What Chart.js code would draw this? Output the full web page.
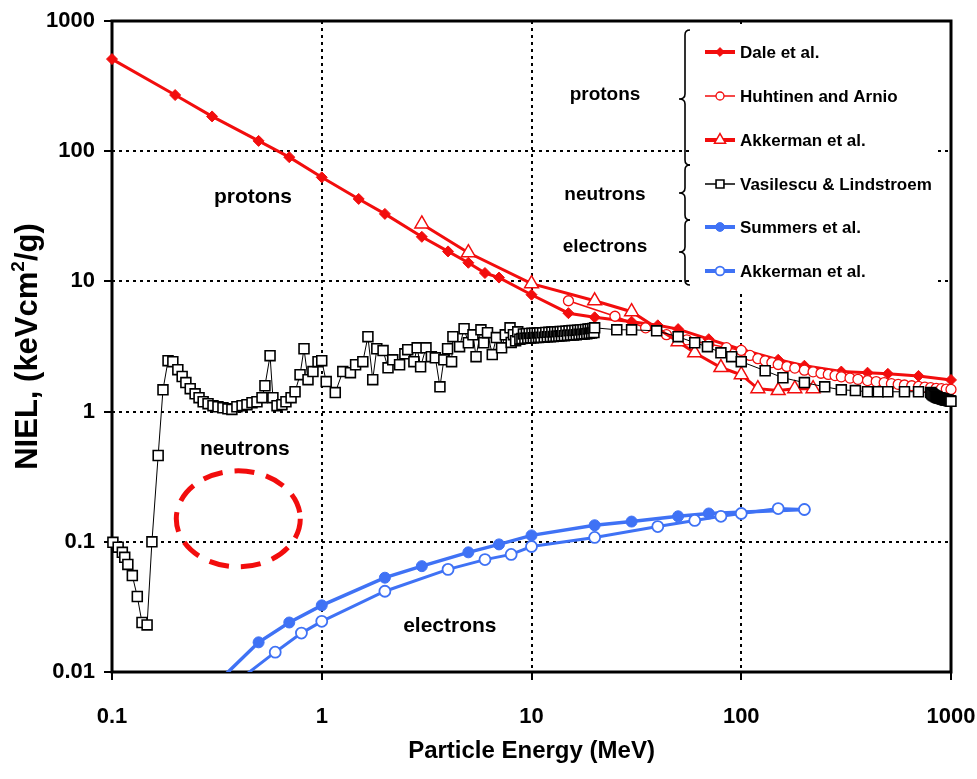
<!DOCTYPE html>
<html>
<head>
<meta charset="utf-8">
<title>NIEL vs particle energy</title>
<script src="https://cdn.jsdelivr.net/npm/chart.js@4.4.1/dist/chart.umd.min.js"></script>
<style>
  html, body { margin: 0; padding: 0; background: #fff; }
  canvas { display: block; }
</style>
</head>
<body>
<canvas id="myChart" width="977" height="779"></canvas>
<script>
// tick labels
const xTicks = [0.1, 1, 10, 100, 1000];
const yTicks = [0.01, 0.1, 1, 10, 100, 1000];

// protons - Dale et al.
const daleE    = [0.1, 0.2, 0.3, 0.5, 0.7, 1, 1.5, 2, 3, 4, 5, 6, 7, 10, 15, 20, 30, 40, 50, 70, 100, 150, 200, 300, 400, 500, 700, 1000];
const daleNiel = [510, 270, 185, 120, 90, 63, 43, 33, 22, 17, 13.9, 11.6, 10.7, 7.9, 5.7, 5.3, 4.9, 4.6, 4.3, 3.6, 3.0, 2.5, 2.25, 2.03, 1.99, 1.95, 1.88, 1.75];

// protons - Huhtinen and Arnio
const huhE    = [15, 25, 35, 44, 55, 70, 85, 100, 110, 120, 130, 140, 150, 165, 180, 200, 220, 240, 260, 280, 300, 330, 360, 400, 440, 480, 520, 560, 600, 650, 700, 750, 800, 850, 900, 950, 1000];
const huhNiel = [7.1, 5.4, 4.4, 3.9, 3.56, 3.3, 3.1, 2.95, 2.7, 2.55, 2.45, 2.38, 2.3, 2.22, 2.16, 2.08, 2.02, 1.97, 1.93, 1.89, 1.85, 1.81, 1.77, 1.73, 1.70, 1.67, 1.64, 1.62, 1.60, 1.58, 1.56, 1.54, 1.53, 1.51, 1.50, 1.49, 1.48];

// protons - Akkerman et al.
const akpE    = [3, 5, 10, 20, 30, 50, 60, 80, 100, 120, 150, 180, 220];
const akpNiel = [27.6, 16.6, 9.6, 7.1, 5.85, 3.44, 2.83, 2.18, 1.92, 1.50, 1.45, 1.50, 1.50];

// neutrons - Vasilescu & Lindstroem
const neuE = [
  0.101, 0.107, 0.112, 0.115, 0.119, 0.125, 0.132, 0.139, 0.147, 0.155, 0.166, 0.175, 0.185, 0.195, 0.206, 0.216, 0.225, 0.236, 0.249, 0.26,
  0.272, 0.287, 0.303, 0.32, 0.338, 0.357, 0.373, 0.394, 0.417, 0.44, 0.465, 0.491, 0.519, 0.536, 0.567, 0.585, 0.612, 0.646, 0.675, 0.714,
  0.746, 0.788, 0.823, 0.86, 0.908, 0.96, 1.0, 1.05, 1.16, 1.26, 1.37, 1.45, 1.57, 1.66, 1.75, 1.83, 1.96, 2.07, 2.18, 2.35,
  2.49, 2.57, 2.75, 2.85, 2.96, 3.14, 3.33, 3.48, 3.66, 3.82, 3.98, 4.16, 4.22, 4.54, 4.77, 5.0, 5.26, 5.44, 5.74, 5.92,
  6.17, 6.5, 6.8, 7.2, 7.5, 7.9, 8.0, 8.2, 8.4, 8.6, 8.8,
  9.0, 9.15, 9.3, 9.45, 9.6, 9.75, 9.9, 10.05, 10.2, 10.35, 10.5, 10.65, 10.8, 10.95, 11.1, 11.3, 11.5, 11.7, 11.9, 12.1,
  12.3, 12.5, 12.7, 12.9, 13.1, 13.3, 13.5, 13.7, 13.9, 14.1, 14.35, 14.6, 14.85, 15.1, 15.35, 15.6, 15.85, 16.1, 16.35, 16.6,
  16.85, 17.1, 17.35, 17.6, 17.85, 18.1, 18.35, 18.6, 18.85, 19.1, 19.35, 19.6, 19.85, 20.0,
  25.5, 30, 39.5, 50, 60, 69, 80, 90, 100, 130, 158, 200, 250, 300, 350, 400, 450, 500, 600, 700,
  800, 810, 820, 830, 840, 850, 860, 870, 880, 890, 900, 910, 920, 930, 940, 950, 960, 970, 980, 990, 1000];
const neuNiel = [
  0.099, 0.091, 0.083, 0.076, 0.067, 0.055, 0.038, 0.024, 0.023, 0.10, 0.46, 1.47, 2.46, 2.42, 2.10, 1.86, 1.67, 1.50, 1.37, 1.28,
  1.19, 1.15, 1.11, 1.09, 1.07, 1.05, 1.04, 1.09, 1.11, 1.13, 1.17, 1.19, 1.28, 1.58, 2.69, 1.28, 1.11, 1.13, 1.19, 1.28,
  1.42, 1.92, 3.04, 1.76, 2.03, 2.42, 2.46, 1.70, 1.40, 2.03, 1.99, 2.29, 2.42, 3.76, 1.76, 3.04, 2.94, 2.17, 2.50, 2.29,
  2.78, 2.99, 2.42, 3.09, 2.21, 3.09, 2.64, 2.59, 1.55, 2.50, 3.04, 2.42, 3.76, 3.15, 4.33, 3.38, 3.89, 2.64, 4.25, 3.38,
  4.04, 2.74, 3.70, 3.09, 3.89, 4.4, 3.4, 3.9, 3.5, 4.1, 3.6,
  3.64, 3.95, 3.66, 3.97, 3.67, 3.98, 3.68, 3.99, 3.69, 4.00, 3.70, 4.01, 3.71, 4.02, 3.72, 4.03, 3.73, 4.05, 3.75, 4.06,
  3.76, 4.08, 3.78, 4.09, 3.79, 4.10, 3.80, 4.12, 3.82, 4.13, 3.83, 4.15, 3.85, 4.17, 3.87, 4.19, 3.88, 4.20, 3.90, 4.22,
  3.92, 4.24, 3.93, 4.26, 3.95, 4.28, 3.97, 4.30, 3.99, 4.32, 4.01, 4.35, 4.05, 4.4,
  4.25, 4.25, 4.17, 3.76, 3.38, 3.15, 2.83, 2.64, 2.42, 2.06, 1.82, 1.67, 1.55, 1.47, 1.45, 1.42, 1.42, 1.42, 1.42, 1.42,
  1.40, 1.37, 1.35, 1.33, 1.32, 1.30, 1.29, 1.28, 1.27, 1.27, 1.26, 1.25, 1.25, 1.24, 1.23, 1.23, 1.22, 1.22, 1.21, 1.21, 1.20];

// electrons - Summers et al.
const sumE    = [0.3, 0.5, 0.7, 1, 2, 3, 5, 7, 10, 20, 30, 50, 70, 200];
const sumNiel = [0.0076, 0.0169, 0.024, 0.0325, 0.053, 0.065, 0.083, 0.0955, 0.112, 0.134, 0.143, 0.157, 0.165, 0.177];

// electrons - Akkerman et al.
const akeE    = [0.4, 0.6, 0.8, 1, 2, 4, 6, 8, 10, 20, 40, 60, 80, 100, 150, 200];
const akeNiel = [0.0086, 0.0142, 0.0199, 0.0245, 0.0417, 0.0614, 0.073, 0.080, 0.092, 0.108, 0.131, 0.146, 0.157, 0.165, 0.18, 0.177];

// labels inside the plot, placed at data coordinates
const regionLabels = ['protons', 'neutrons', 'electrons'];
const regionLabelE = [0.47, 0.43, 4.08];
const regionLabelNiel = [44, 0.51, 0.0225];
const markE = 0.4, markNiel = 0.15;   // dashed ellipse centre

const groupNames = ['protons', 'neutrons', 'electrons'];

const FONT = "'Liberation Sans', Arial, Helvetica, sans-serif";
const RED = '#f20d0d';
const BLUE = '#3f72f5';

const pts = (xs, ys) => xs.map((x, i) => ({ x: x, y: ys[i] }));

function marker(ctx, style, r, x, y, fill, stroke, bw) {
  ctx.beginPath();
  if (style === 'circle') {
    ctx.arc(x, y, r, 0, Math.PI * 2);
  } else if (style === 'rect') {
    const s = r * Math.SQRT1_2;
    ctx.rect(x - s, y - s, 2 * s, 2 * s);
  } else if (style === 'rectRot') {
    ctx.moveTo(x, y - r); ctx.lineTo(x + r, y); ctx.lineTo(x, y + r); ctx.lineTo(x - r, y); ctx.closePath();
  } else if (style === 'triangle') {
    ctx.moveTo(x, y - r); ctx.lineTo(x + r * 0.866, y + r / 2); ctx.lineTo(x - r * 0.866, y + r / 2); ctx.closePath();
  }
  ctx.fillStyle = fill;
  ctx.fill();
  ctx.lineWidth = bw;
  ctx.strokeStyle = stroke;
  ctx.stroke();
}

function brace(ctx, x, y1, ym, y2) {
  const r = 5;
  ctx.beginPath();
  ctx.moveTo(x + r, y1);
  ctx.quadraticCurveTo(x, y1, x, y1 + r);
  ctx.lineTo(x, ym - r);
  ctx.quadraticCurveTo(x, ym, x - r - 1, ym);
  ctx.quadraticCurveTo(x, ym, x, ym + r);
  ctx.lineTo(x, y2 - r);
  ctx.quadraticCurveTo(x, y2, x + r, y2);
  ctx.stroke();
}

const decor = {
  id: 'decor',
  beforeDatasetsDraw(chart) {
    const ctx = chart.ctx;
    const a = chart.chartArea;
    ctx.save();
    // white legend box hides the grid
    ctx.fillStyle = '#fff';
    ctx.fillRect(690, a.top + 3, 248, 268);
    // frame
    ctx.lineWidth = 3;
    ctx.strokeStyle = '#000';
    ctx.strokeRect(a.left, a.top, a.right - a.left, a.bottom - a.top);
    ctx.restore();
  },
  afterDraw(chart) {
    const ctx = chart.ctx;
    const a = chart.chartArea;
    const xs = chart.scales.x, ys = chart.scales.y;
    ctx.save();

    // dashed ellipse
    ctx.beginPath();
    ctx.setLineDash([20, 12]);
    ctx.lineWidth = 5;
    ctx.strokeStyle = RED;
    ctx.ellipse(xs.getPixelForValue(markE), ys.getPixelForValue(markNiel), 62, 48, 0, 0, Math.PI * 2);
    ctx.stroke();
    ctx.setLineDash([]);

    // region labels
    ctx.fillStyle = '#000';
    ctx.font = 'bold 21px ' + FONT;
    ctx.textAlign = 'center';
    ctx.textBaseline = 'middle';
    regionLabels.forEach((t, i) => {
      ctx.fillText(t, xs.getPixelForValue(regionLabelE[i]), ys.getPixelForValue(regionLabelNiel[i]));
    });

    // legend
    const rowY = [52, 96, 140, 184, 227, 271];
    chart.data.datasets.forEach((d, i) => {
      const y = rowY[i];
      ctx.beginPath();
      ctx.lineWidth = d.legendLine;
      ctx.strokeStyle = d.borderColor;
      ctx.moveTo(705, y);
      ctx.lineTo(735, y);
      ctx.stroke();
      marker(ctx, d.pointStyle, d.pointRadius * 0.8, 720, y, d.pointBackgroundColor, d.pointBorderColor, d.pointBorderWidth);
      ctx.fillStyle = '#000';
      ctx.font = 'bold 17px ' + FONT;
      ctx.textAlign = 'left';
      ctx.textBaseline = 'middle';
      ctx.fillText(d.label, 740, y + 1);
    });

    // braces and group names
    ctx.lineWidth = 1.6;
    ctx.strokeStyle = '#000';
    brace(ctx, 685, 30, 99, 165);
    brace(ctx, 685, 165, 193, 220);
    brace(ctx, 685, 220, 252, 285);
    ctx.font = 'bold 19px ' + FONT;
    ctx.textAlign = 'center';
    ctx.fillStyle = '#000';
    [95, 195, 247].forEach((y, i) => ctx.fillText(groupNames[i], 605, y));

    // x axis title
    ctx.font = 'bold 24px ' + FONT;
    ctx.textAlign = 'center';
    ctx.textBaseline = 'middle';
    ctx.fillText('Particle Energy (MeV)', (a.left + a.right) / 2, 751);

    // y axis title with superscript
    ctx.translate(30, (a.top + a.bottom) / 2);
    ctx.rotate(-Math.PI / 2);
    const big = 'bold 31px ' + FONT, small = 'bold 19px ' + FONT;
    const p1 = 'NIEL, (keVcm', p2 = '2', p3 = '/g)';
    ctx.font = big;
    const w1 = ctx.measureText(p1).width, w3 = ctx.measureText(p3).width;
    ctx.font = small;
    const w2 = ctx.measureText(p2).width;
    let x0 = -(w1 + w2 + w3) / 2;
    ctx.textAlign = 'left';
    ctx.textBaseline = 'alphabetic';
    ctx.font = big; ctx.fillText(p1, x0, 7); x0 += w1;
    ctx.font = small; ctx.fillText(p2, x0, -6); x0 += w2;
    ctx.font = big; ctx.fillText(p3, x0, 7);
    ctx.restore();
  }
};

function logAxis(min, max, ticks, pad) {
  return {
    type: 'logarithmic',
    min: min,
    max: max,
    afterBuildTicks: s => { s.ticks = ticks.map(v => ({ value: v })); },
    ticks: {
      autoSkip: false,
      maxRotation: 0,
      color: '#000',
      padding: pad,
      font: { family: FONT, size: 22, weight: 'bold' },
      callback: v => String(v)
    },
    grid: { color: '#000', lineWidth: 2, tickLength: 8, tickColor: '#000', tickWidth: 2, tickBorderDash: [] },
    border: { display: false, dash: [3, 4] }
  };
}

const xAxis = logAxis(0.1, 1000, xTicks, 24);
xAxis.afterFit = s => { s.height = 107; s.paddingLeft = 0; s.paddingRight = 0; };
const yAxis = logAxis(0.01, 1000, yTicks, 9);
yAxis.afterFit = s => { s.width = 112; s.paddingTop = 0; s.paddingBottom = 0; };

const config = {
  type: 'line',
  data: {
    datasets: [
      { label: 'Dale et al.', data: pts(daleE, daleNiel), borderColor: RED, borderWidth: 3, legendLine: 4,
        pointStyle: 'rectRot', pointRadius: 5.5, pointBackgroundColor: RED, pointBorderColor: RED, pointBorderWidth: 1, clip: false, order: 3 },
      { label: 'Huhtinen and Arnio', data: pts(huhE, huhNiel), borderColor: RED, borderWidth: 1.5, legendLine: 1.5,
        pointStyle: 'circle', pointRadius: 5, pointBackgroundColor: '#fff', pointBorderColor: RED, pointBorderWidth: 1.3, clip: false, order: 2 },
      { label: 'Akkerman et al.', data: pts(akpE, akpNiel), borderColor: RED, borderWidth: 3, legendLine: 4,
        pointStyle: 'triangle', pointRadius: 8, pointBackgroundColor: '#fff', pointBorderColor: RED, pointBorderWidth: 1.5, clip: false, order: 1 },
      { label: 'Vasilescu & Lindstroem', data: pts(neuE, neuNiel), borderColor: '#000', borderWidth: 1, legendLine: 1.5,
        pointStyle: 'rect', pointRadius: 7, pointBackgroundColor: '#fff', pointBorderColor: '#000', pointBorderWidth: 1.6, clip: false, order: 0 },
      { label: 'Summers et al.', data: pts(sumE, sumNiel), borderColor: BLUE, borderWidth: 3.5, legendLine: 4,
        pointStyle: 'circle', pointRadius: 5.5, pointBackgroundColor: BLUE, pointBorderColor: BLUE, pointBorderWidth: 1, order: 5 },
      { label: 'Akkerman et al.', data: pts(akeE, akeNiel), borderColor: BLUE, borderWidth: 3, legendLine: 4,
        pointStyle: 'circle', pointRadius: 5.5, pointBackgroundColor: '#fff', pointBorderColor: BLUE, pointBorderWidth: 1.8, order: 4 }
    ]
  },
  options: {
    responsive: false,
    animation: false,
    events: [],
    layout: { padding: { top: 21, right: 26, left: 0, bottom: 0 } },
    scales: { x: xAxis, y: yAxis },
    plugins: { legend: { display: false }, tooltip: { enabled: false } }
  },
  plugins: [decor]
};

new Chart(document.querySelector('#myChart').getContext('2d'), config);
</script>
</body>
</html>
